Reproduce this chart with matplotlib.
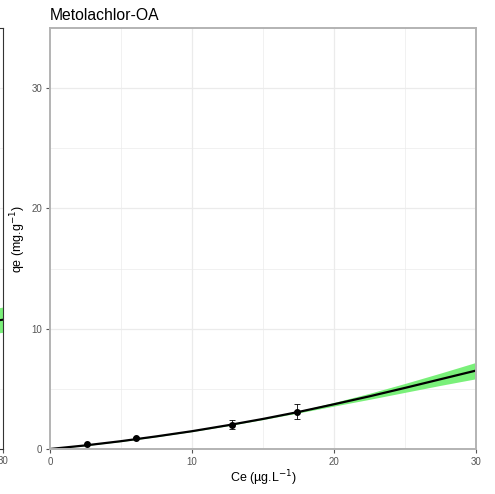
import matplotlib
matplotlib.use("Agg")
import matplotlib.pyplot as plt
import numpy as np

plt.rcParams['font.family'] = ['Liberation Sans', 'DejaVu Sans']

# observed points
ce_obs = [2.58, 6.06, 12.8, 17.4]
qe_obs = [0.39, 0.91, 2.02, 3.10]
qe_err = [0.05, 0.08, 0.35, 0.63]

# fitted curve
ce_fit = [0, 2.5, 5, 7.5, 10, 12.5, 15, 17.5, 20, 22.5, 25, 27.5, 30]
qe_fit = [0, 0.3, 0.65, 1.05, 1.48, 1.97, 2.5, 3.08, 3.72, 4.38, 5.08, 5.8, 6.52]
band_hw = [0, 0.02, 0.03, 0.03, 0.03, 0.04, 0.05, 0.08, 0.15, 0.25, 0.37, 0.51, 0.68]

# neighbour panel (only its right edge is visible)
ce_prev = [27, 30]
qe_prev = [10.4, 10.75]
hw_prev = [1.0, 1.05]

title = "Metolachlor-OA"
xticks = [0, 10, 20, 30]
yticks = [0, 10, 20, 30]

W, H = 495, 494
fig = plt.figure(figsize=(W/100, H/100), dpi=100)

grid_c = '#ebebeb'
tick_c = '#555555'

def px(x0, y0, x1, y1):
    return [x0/W, 1-y1/H, (x1-x0)/W, (y1-y0)/H]

# neighbour panel
ax0 = fig.add_axes(px(3-300, 28, 3, 449))
ax0.set_xlim(0, 30)
ax0.set_ylim(0, 35)
for y in [5, 10, 15, 20, 25, 30]:
    ax0.axhline(y, color=grid_c, lw=0.8 if y % 10 == 0 else 0.5, zorder=0)
lo = np.array(qe_prev) - np.array(hw_prev)
hi = np.array(qe_prev) + np.array(hw_prev)
ax0.fill_between(ce_prev, lo, hi, color='#7af07a', lw=0, zorder=1)
ax0.plot(ce_prev, qe_prev, color='black', lw=1.5, zorder=2)
ax0.set_xticks([30])
ax0.set_xticklabels(['30'])
ax0.set_yticks([])
ax0.tick_params(axis='x', colors=tick_c, labelsize=7, length=3, width=0.8, pad=2)
ax0.spines['left'].set_visible(False)
for s in ['right', 'top', 'bottom']:
    ax0.spines[s].set_color('#333333')
    ax0.spines[s].set_linewidth(0.8)

# main panel
ax = fig.add_axes(px(50, 28, 476, 449))
ax.set_xlim(0, 30)
ax.set_ylim(0, 35)
for x in [5, 15, 25]:
    ax.axvline(x, color=grid_c, lw=0.5, zorder=0)
for x in [10, 20]:
    ax.axvline(x, color=grid_c, lw=0.9, zorder=0)
for y in [5, 15, 25]:
    ax.axhline(y, color=grid_c, lw=0.5, zorder=0)
for y in [10, 20, 30]:
    ax.axhline(y, color=grid_c, lw=0.9, zorder=0)

lo = np.array(qe_fit) - np.array(band_hw)
hi = np.array(qe_fit) + np.array(band_hw)
ax.fill_between(ce_fit, lo, hi, color='#7af07a', lw=0, zorder=1)
ax.plot(ce_fit, qe_fit, color='black', lw=1.6, zorder=2, solid_joinstyle='round')
ax.errorbar(ce_obs, qe_obs, yerr=qe_err, fmt='o', color='black', ms=4,
            elinewidth=0.6, capsize=2.5, capthick=0.6, zorder=3)

ax.set_xticks(xticks)
ax.set_yticks(yticks)
ax.tick_params(colors=tick_c, labelsize=7, length=3, width=0.8, pad=2.5)
for s in ax.spines.values():
    s.set_color('#b3b3b3')
    s.set_linewidth(1.4)

ax.set_xlabel('Ce (µg.L$^{-1}$)', fontsize=9)
ax.set_ylabel('qe (mg.g$^{-1}$)', fontsize=9)
ax.xaxis.set_label_coords(0.5, -(478 - 449) / 421, transform=ax.transAxes)
ax.yaxis.set_label_coords((18 - 50) / 426, 0.5, transform=ax.transAxes)
ax.xaxis.label.set_va('center')
ax.yaxis.label.set_va('center')
fig.text(50/W, 1-20/H, title, fontsize=11.3, ha='left', va='baseline')

fig.savefig('out.png', dpi=100)
